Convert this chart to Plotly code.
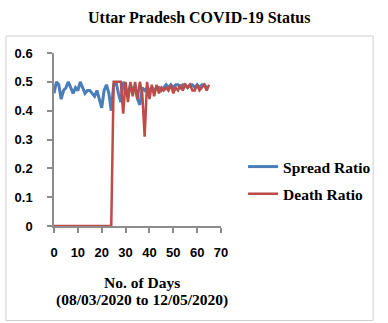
import plotly.graph_objects as go

# Daily ratios, Uttar Pradesh, day 0 = 08/03/2020
spread_days = list(range(0, 65))
spread_ratio = [
    0.46, 0.50, 0.49, 0.44, 0.47, 0.48, 0.50, 0.48, 0.46, 0.48,
    0.47, 0.50, 0.48, 0.46, 0.47, 0.47, 0.46, 0.45, 0.47, 0.44,
    0.41, 0.47, 0.49, 0.46, 0.40, 0.49, 0.50, 0.46, 0.43, 0.50,
    0.48, 0.45, 0.49, 0.47, 0.48, 0.44, 0.42, 0.48, 0.47, 0.48,
    0.47, 0.48, 0.47, 0.48, 0.48, 0.47, 0.48, 0.49, 0.48, 0.49,
    0.48, 0.49, 0.49, 0.48, 0.49, 0.49, 0.48, 0.49, 0.49, 0.48,
    0.49, 0.48, 0.49, 0.49, 0.48,
]

death_days = list(range(0, 66))
death_ratio = [0.0] * 25 + [
    0.50, 0.50, 0.50, 0.50, 0.39, 0.50, 0.43, 0.50, 0.45, 0.50,
    0.44, 0.50, 0.46, 0.31, 0.50, 0.44, 0.49, 0.45, 0.49, 0.46,
    0.48, 0.47, 0.48, 0.47, 0.49, 0.46, 0.48, 0.47, 0.49, 0.47,
    0.49, 0.48, 0.49, 0.47, 0.47, 0.49, 0.47, 0.48, 0.49, 0.47,
    0.49,
]

x_ticks = [0, 10, 20, 30, 40, 50, 60, 70]
y_ticks = [0, 0.1, 0.2, 0.3, 0.4, 0.5, 0.6]

W, H = 388, 323
ML, MR, MT, MB = 54, 160, 53, 97
PW, PH = W - ML - MR, H - MT - MB


def px(x):
    return (x - ML) / PW


def py(y):
    return (H - MB - y) / PH


serif = "Liberation Serif, Times New Roman, serif"
sans = "Liberation Sans, Arial, sans-serif"

fig = go.Figure()
fig.add_trace(go.Scatter(
    x=spread_days, y=spread_ratio, mode="lines", name="Spread Ratio",
    line=dict(color="#4A7EBB", width=3), legendgroup="a",
))
fig.add_trace(go.Scatter(
    x=death_days, y=death_ratio, mode="lines", name="Death Ratio",
    line=dict(color="#BE4B48", width=2.5), legendgroup="b",
))

fig.update_layout(
    width=W, height=H,
    margin=dict(l=ML, r=MR, t=MT, b=MB),
    paper_bgcolor="white", plot_bgcolor="white",
    showlegend=True,
    legend=dict(
        x=px(251), y=py(150), xanchor="left", yanchor="top",
        font=dict(family=serif, size=15.5, color="black", weight="bold"),
        tracegroupgap=4, itemwidth=30, bgcolor="rgba(0,0,0,0)",
    ),
    xaxis=dict(
        range=[0, 70], tickvals=x_ticks, showgrid=False, zeroline=False,
        showline=True, linecolor="#8c8c8c", linewidth=1.5,
        ticks="outside", ticklen=5, tickcolor="#8c8c8c", tickwidth=1.5,
        ticklabelstandoff=9,
        tickfont=dict(family=sans, size=13, color="black", weight="bold"),
        fixedrange=True,
    ),
    yaxis=dict(
        range=[0, 0.6], tickvals=y_ticks, ticktext=["0", "0.1", "0.2", "0.3", "0.4", "0.5", "0.6"],
        showgrid=False, zeroline=False,
        showline=True, linecolor="#8c8c8c", linewidth=1.5,
        ticks="outside", ticklen=5, tickcolor="#8c8c8c", tickwidth=1.5,
        ticklabelstandoff=12,
        tickfont=dict(family=sans, size=13, color="black", weight="bold"),
        fixedrange=True,
    ),
    shapes=[dict(
        type="rect", xref="paper", yref="paper",
        x0=px(4), x1=px(386.5), y0=py(320.5), y1=py(36),
        line=dict(color="#cfcfcf", width=1), layer="below",
    )],
    annotations=[
        dict(text="<b>Uttar Pradesh COVID-19 Status</b>", xref="paper", yref="paper",
             x=px(205), y=py(17), xanchor="center", yanchor="middle", showarrow=False,
             font=dict(family=serif, size=16, color="black")),
        dict(text="<b>No. of Days</b>", xref="paper", yref="paper",
             x=px(146), y=py(282), xanchor="center", yanchor="middle", showarrow=False,
             font=dict(family=serif, size=15.5, color="black")),
        dict(text="<b>(08/03/2020 to 12/05/2020)</b>", xref="paper", yref="paper",
             x=px(146), y=py(300), xanchor="center", yanchor="middle", showarrow=False,
             font=dict(family=serif, size=15.5, color="black")),
    ],
)

fig.write_html("out.html")
